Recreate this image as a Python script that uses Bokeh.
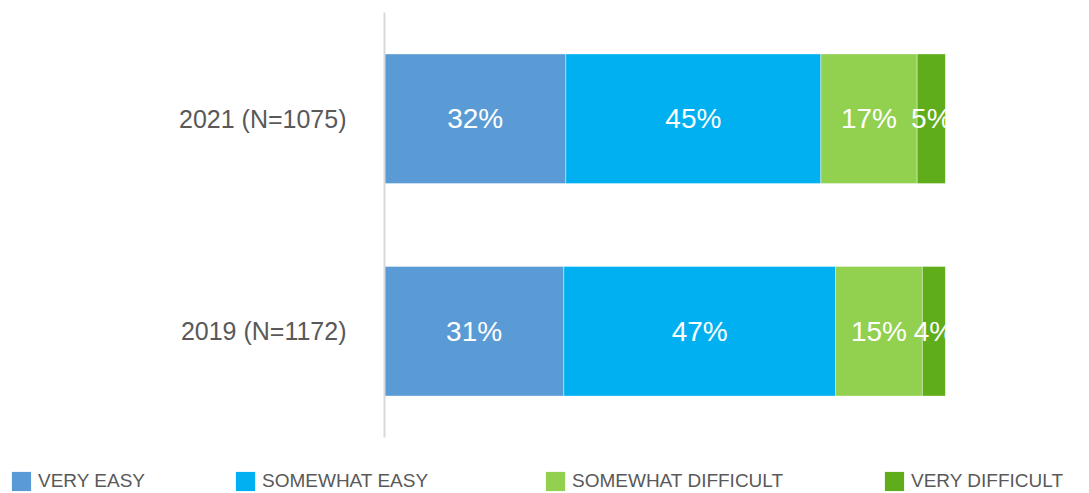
from bokeh.plotting import figure
from bokeh.layouts import column
from bokeh.models import ColumnDataSource, FactorRange, Range1d, Legend, LegendItem
from bokeh.core.properties import value
from bokeh.embed import file_html
from bokeh.resources import INLINE

years = ["2021 (N=1075)", "2019 (N=1172)"]
categories = ["VERY EASY", "SOMEWHAT EASY", "SOMEWHAT DIFFICULT", "VERY DIFFICULT"]
very_easy = [32, 31]
somewhat_easy = [45, 47]
somewhat_difficult = [17, 15]
very_difficult = [5, 4]
colors = ["#5B9BD5", "#00B0F0", "#92D050", "#5FAD1A"]

FONT = "Liberation Sans"
series = [very_easy, somewhat_easy, somewhat_difficult, very_difficult]
keys = ["s0", "s1", "s2", "s3"]
totals = [sum(s[i] for s in series) for i in range(len(years))]
data = {"year": years}
for k, s in zip(keys, series):
    data[k] = [v / t for v, t in zip(s, totals)]
source = ColumnDataSource(data)

p = figure(frame_width=561, frame_height=425,
           min_border_left=384, min_border_right=144, min_border_top=12, min_border_bottom=13,
           y_range=FactorRange(factors=years[::-1]), x_range=Range1d(0, 1),
           output_backend="svg", toolbar_location=None, title=None)

renderers = p.hbar_stack(keys, y="year", height=0.61, color=colors, source=source,
                         line_color="white", line_alpha=0.5, line_width=0.75)

# labels
lx, ly, lt = [], [], []
for i, y in enumerate(years):
    cum = 0.0
    for k, s in zip(keys, series):
        w = data[k][i]
        lx.append(cum + w / 2)
        ly.append(y)
        lt.append(f"{s[i]}%")
        cum += w
p.text(x=lx, y=ly, text=lt, text_align="center", text_baseline="middle",
       text_color="white", text_font=value(FONT), text_font_size="28px")

p.xaxis.visible = False
p.xgrid.visible = False
p.ygrid.visible = False
p.outline_line_color = None
p.yaxis.axis_line_color = "#d9d9d9"
p.yaxis.axis_line_width = 2
p.yaxis.major_tick_line_color = None
p.yaxis.minor_tick_line_color = None
p.yaxis.major_label_standoff = 32
p.yaxis.major_label_text_font = FONT
p.yaxis.major_label_text_font_size = "25px"
p.yaxis.major_label_text_color = "#595959"

# legend strip
lp = figure(frame_width=1089, frame_height=43, min_border=0,
            x_range=Range1d(0, 1), y_range=Range1d(0, 1),
            output_backend="svg", toolbar_location=None, title=None)
lp.axis.visible = False
lp.grid.visible = False
lp.outline_line_color = None
offscreen = ColumnDataSource(dict(x=[-10], y=[-10]))
xpos = [9, 233, 543, 882]
for cat, c, xo in zip(categories, colors, xpos):
    r = lp.rect(x="x", y="y", width=1, height=1, source=offscreen,
                fill_color=c, line_color=None)
    lg = Legend(items=[LegendItem(label=cat, renderers=[r])], location=(xo, 0),
                orientation="horizontal", padding=0, margin=0,
                border_line_color=None, background_fill_alpha=0,
                glyph_width=24, glyph_height=24, label_standoff=5,
                label_height=18,
                label_text_font=FONT, label_text_font_size="19px",
                label_text_color="#595959")
    lp.add_layout(lg, "center")

open("out.html", "w").write(file_html(column(p, lp, spacing=0), INLINE))
